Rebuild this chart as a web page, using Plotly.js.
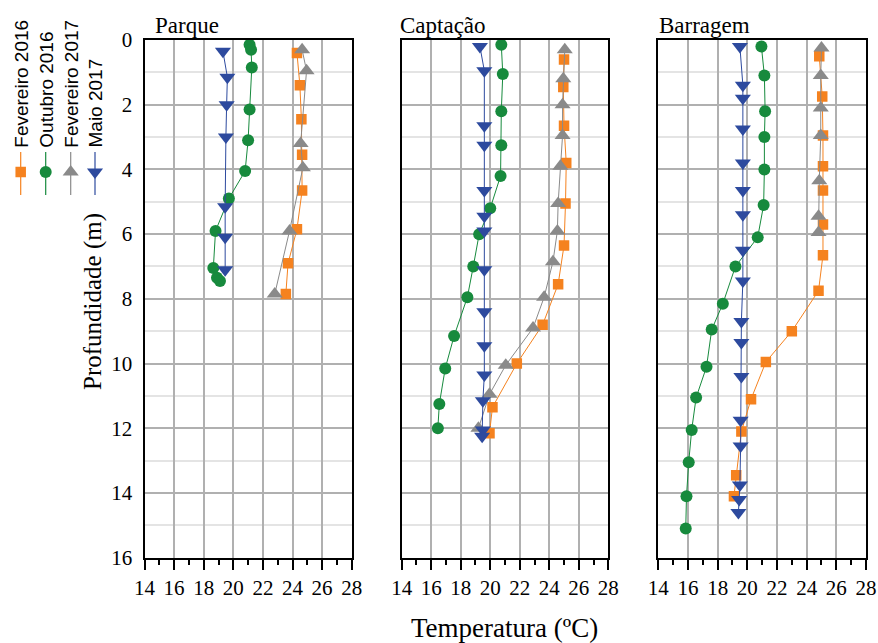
<!DOCTYPE html>
<html><head><meta charset="utf-8">
<script src="https://cdn.plot.ly/plotly-3.0.1.min.js"></script>
<style>html,body{margin:0;padding:0;background:#fff}#chart{width:878px;height:643px}</style>
</head><body><div id="chart"></div>
<script>
// ---- Data (temperature ºC, depth m) ----
const panelNames = ['Parque', 'Captação', 'Barragem'];
const seriesNames = ['Fevereiro 2016', 'Outubro 2016', 'Fevereiro 2017', 'Maio 2017'];
const xTickVals = [14, 16, 18, 20, 22, 24, 26, 28];
const yTickVals = [0, 2, 4, 6, 8, 10, 12, 14, 16];

// Parque
const parqueFev16T = [24.3, 24.5, 24.6, 24.65, 24.65, 24.3, 23.7, 23.55];
const parqueFev16Z = [0.4, 1.4, 2.45, 3.55, 4.65, 5.85, 6.9, 7.85];
const parqueOut16T = [21.1, 21.2, 21.25, 21.1, 21.0, 20.8, 19.7, 18.8, 18.65, 18.9, 19.1];
const parqueOut16Z = [0.15, 0.3, 0.85, 2.15, 3.1, 4.05, 4.9, 5.9, 7.05, 7.35, 7.45];
const parqueFev17T = [24.65, 24.95, 24.55, 24.7, 23.8, 22.8];
const parqueFev17Z = [0.3, 0.95, 3.2, 3.95, 5.9, 7.85];
const parqueMai17T = [19.3, 19.6, 19.55, 19.5, 19.45, 19.45, 19.45];
const parqueMai17Z = [0.35, 1.15, 2.0, 3.0, 5.15, 6.1, 7.1];

// Captação
const captFev16T = [25.0, 24.95, 25.0, 25.15, 25.1, 25.0, 24.6, 23.55, 21.8, 20.15, 19.95];
const captFev16Z = [0.6, 1.45, 2.65, 3.8, 5.05, 6.35, 7.55, 8.8, 10.0, 11.35, 12.15];
const captOut16T = [20.75, 20.85, 20.75, 20.75, 20.7, 20.0, 19.25, 18.85, 18.45, 17.55, 16.95, 16.55, 16.45];
const captOut16Z = [0.15, 1.05, 2.2, 3.25, 4.2, 5.2, 6.0, 7.0, 7.95, 9.15, 10.15, 11.25, 12.0];
const captFev17T = [25.05, 24.95, 24.9, 24.9, 24.75, 24.6, 24.55, 24.25, 23.65, 22.9, 21.05, 19.95, 19.2];
const captFev17Z = [0.3, 1.2, 2.0, 2.95, 3.9, 5.05, 5.9, 6.85, 7.95, 8.9, 10.05, 10.95, 12.0];
const captMai17T = [19.3, 19.6, 19.6, 19.6, 19.6, 19.6, 19.6, 19.6, 19.6, 19.6, 19.6, 19.5, 19.5, 19.45];
const captMai17Z = [0.2, 0.95, 2.65, 3.25, 4.65, 5.45, 5.9, 7.1, 8.4, 9.45, 10.35, 11.15, 12.05, 12.25];

// Barragem
const barrFev16T = [24.85, 25.05, 25.1, 25.1, 25.1, 25.1, 25.1, 24.8, 23.0, 21.25, 20.25, 19.6, 19.25, 19.1];
const barrFev16Z = [0.5, 1.75, 2.95, 3.9, 4.65, 5.7, 6.65, 7.75, 9.0, 9.95, 11.1, 12.1, 13.45, 14.1];
const barrOut16T = [20.95, 21.15, 21.2, 21.15, 21.15, 21.1, 20.7, 19.2, 18.35, 17.6, 17.25, 16.55, 16.25, 16.05, 15.9, 15.85];
const barrOut16Z = [0.2, 1.1, 2.2, 3.0, 4.0, 5.1, 6.1, 7.0, 8.15, 8.95, 10.1, 11.05, 12.05, 13.05, 14.1, 15.1];
const barrFev17T = [25.0, 24.95, 24.95, 24.95, 24.85, 24.8, 24.8];
const barrFev17Z = [0.25, 1.1, 2.1, 2.95, 4.35, 5.45, 5.95];
const barrMai17T = [19.5, 19.7, 19.7, 19.7, 19.7, 19.7, 19.7, 19.7, 19.7, 19.6, 19.6, 19.6, 19.55, 19.55, 19.5, 19.45, 19.4];
const barrMai17Z = [0.2, 1.4, 1.8, 2.75, 3.8, 4.65, 5.4, 6.5, 7.45, 8.7, 9.35, 10.4, 11.75, 12.55, 13.75, 14.2, 14.6];

// ---- Styling ----
const W = 878, H = 643;
const px = v => v / W, py = v => 1 - v / H;
const SERIF = 'Liberation Serif';
const SANS = 'Liberation Sans';

const styles = [
  {color: '#f5821f', symbol: 'square', size: 10.5},
  {color: '#178a3d', symbol: 'circle', size: 12},
  {color: '#8a8a8a', symbol: 'triangle-up', size: 14},
  {color: '#2d4a9e', symbol: 'triangle-down', size: 14}
];

const panelData = [
  [[parqueFev16T, parqueFev16Z], [parqueOut16T, parqueOut16Z], [parqueFev17T, parqueFev17Z], [parqueMai17T, parqueMai17Z]],
  [[captFev16T, captFev16Z], [captOut16T, captOut16Z], [captFev17T, captFev17Z], [captMai17T, captMai17Z]],
  [[barrFev16T, barrFev16Z], [barrOut16T, barrOut16Z], [barrFev17T, barrFev17Z], [barrMai17T, barrMai17Z]]
];

const domainsPx = [[144.5, 351.7], [401.7, 608.3], [658.3, 866]];
const titleXPx = [152.5, 398.3, 656.7];
const yDomain = [py(557.7), py(40)];

const traces = [];
panelData.forEach((pd, p) => {
  const sfx = p === 0 ? '' : String(p + 1);
  pd.forEach((s, i) => {
    traces.push({
      type: 'scatter', mode: 'lines+markers',
      x: s[0], y: s[1], name: seriesNames[i], showlegend: false,
      xaxis: 'x' + sfx, yaxis: 'y' + sfx,
      line: {color: styles[i].color, width: 1},
      marker: {color: styles[i].color, symbol: styles[i].symbol, size: styles[i].size, line: {width: 0}},
      hoverinfo: 'x+y+name'
    });
  });
});

const layout = {
  width: W, height: H,
  margin: {l: 0, r: 0, t: 0, b: 0},
  paper_bgcolor: '#fff', plot_bgcolor: '#fff',
  showlegend: false,
  annotations: [], shapes: []
};

domainsPx.forEach((d, p) => {
  const sfx = p === 0 ? '' : String(p + 1);
  layout['xaxis' + sfx] = {
    domain: [px(d[0]), px(d[1])], anchor: 'y' + sfx,
    range: [14, 28], tickvals: xTickVals, ticktext: xTickVals.map(String),
    showgrid: true, gridcolor: '#b0b0b0', gridwidth: 2,
    ticks: 'outside', ticklen: 10, tickwidth: 2, tickcolor: '#000',
    minor: {dtick: 1, ticks: 'outside', ticklen: 5, tickwidth: 2, tickcolor: '#000', showgrid: false},
    showline: true, linecolor: '#000', linewidth: 2, mirror: true,
    zeroline: false,
    tickfont: {family: SERIF, size: 21, color: '#000'}
  };
  layout['yaxis' + sfx] = {
    domain: yDomain, anchor: 'x' + sfx,
    range: [16, 0], tickvals: yTickVals, ticktext: yTickVals.map(String),
    showticklabels: p === 0, ticks: '',
    showgrid: true, gridcolor: '#b0b0b0', gridwidth: 2,
    minor: {dtick: 1, showgrid: true, gridcolor: '#e4e4e4', gridwidth: 2, ticks: ''},
    showline: true, linecolor: '#000', linewidth: 2, mirror: true,
    zeroline: false,
    ticklabelstandoff: 6,
    tickfont: {family: SERIF, size: 21, color: '#000'}
  };
  layout.annotations.push({
    text: panelNames[p], xref: 'paper', yref: 'paper',
    x: px(titleXPx[p]), xanchor: 'left', y: py(25), yanchor: 'middle',
    showarrow: false, font: {family: SERIF, size: 23, color: '#000'}
  });
});

// Axis titles
layout.annotations.push({
  text: 'Temperatura (ºC)', xref: 'paper', yref: 'paper',
  x: px(504), xanchor: 'center', y: py(628), yanchor: 'middle',
  showarrow: false, font: {family: SERIF, size: 27, color: '#000'}
});
layout.annotations.push({
  text: 'Profundidade (m)', xref: 'paper', yref: 'paper', textangle: -90,
  x: px(93), xanchor: 'center', y: py(302), yanchor: 'middle',
  showarrow: false, font: {family: SERIF, size: 25, color: '#000'}
});

// Custom vertical legend (rotated labels)
const legX = [20.7, 45.7, 70.7, 95];
const legMarkerY = 172;
legX.forEach((cx, i) => {
  const st = styles[i];
  layout.annotations.push({
    text: seriesNames[i], xref: 'paper', yref: 'paper', textangle: -90,
    x: px(cx), xanchor: 'center', y: py(150), yanchor: 'bottom',
    showarrow: false, font: {family: SANS, size: 19, color: '#000'}
  });
  layout.shapes.push({
    type: 'line', xref: 'paper', yref: 'paper',
    x0: px(cx), x1: px(cx), y0: py(152), y1: py(195),
    line: {color: st.color, width: 1.2}
  });
  const c = st.color;
  if (st.symbol === 'square') {
    const h = 5.25;
    layout.shapes.push({type: 'rect', xref: 'paper', yref: 'paper',
      x0: px(cx - h), x1: px(cx + h), y0: py(legMarkerY - h), y1: py(legMarkerY + h),
      fillcolor: c, line: {width: 0}});
  } else if (st.symbol === 'circle') {
    const r = 6;
    layout.shapes.push({type: 'circle', xref: 'paper', yref: 'paper',
      x0: px(cx - r), x1: px(cx + r), y0: py(legMarkerY - r), y1: py(legMarkerY + r),
      fillcolor: c, line: {width: 0}});
  } else {
    const r = st.size / 2, rt = r * 2 / Math.sqrt(3), r2 = r / 2;
    let pts;
    if (st.symbol === 'triangle-up') {
      pts = [[cx - rt, legMarkerY + r2], [cx + rt, legMarkerY + r2], [cx, legMarkerY - r]];
    } else {
      pts = [[cx - rt, legMarkerY - r2], [cx + rt, legMarkerY - r2], [cx, legMarkerY + r]];
    }
    const path = 'M' + pts.map(q => px(q[0]) + ',' + py(q[1])).join(' L') + ' Z';
    layout.shapes.push({type: 'path', xref: 'paper', yref: 'paper', path: path,
      fillcolor: c, line: {width: 0}});
  }
});

Plotly.newPlot('chart', traces, layout, {displayModeBar: false, staticPlot: true});
</script>
</body></html>
